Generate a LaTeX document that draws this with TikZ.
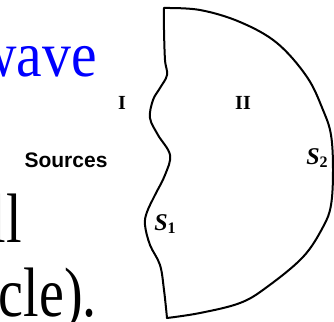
\documentclass[tikz,border=0pt]{standalone}
\usepackage{graphicx}
\usepackage{fontspec}
\setmainfont{Liberation Serif}
\newfontfamily\srcfont{Liberation Sans}
\newcommand{\narrowtext}[2][0.8]{\scalebox{#1}[1]{#2}}
\begin{document}
\begin{tikzpicture}[x=1pt,y=-1pt,
    slidetext/.style={font=\fontsize{70}{70}\selectfont, inner sep=0pt, anchor=base east},
    regionlabel/.style={font=\fontsize{20}{20}\selectfont\bfseries, inner sep=0pt},
    surflabel/.style={font=\fontsize{24}{24}\selectfont\bfseries, inner sep=0pt},
    boundary/.style={line width=2pt, line join=round, line cap=round}]
    \useasboundingbox (0,0) rectangle (334,321);
    \clip (0,0) rectangle (334,321);
    % slide text behind the figure
    \node [slidetext, font=\fontsize{64}{64}\selectfont, text=blue] (wave) at (97,76) {\narrowtext[0.9]{wave}};
    \node [slidetext] (linel) at (22,242) {\narrowtext{ll}};
    \node [slidetext] (cle) at (97,316) {\narrowtext{cle).}};
    % surface S1 (wavy) and S2 (arc)
    \draw [boundary] plot [smooth, tension=0.6] coordinates {(164,8) (164,30) (165,60) (167,75) (160,88) (153,100) (150,118) (158,135) (170,155) (165,175) (155,195) (147,212) (145,225) (150,245) (160,265) (164,290) (167,318)};
    \draw [boundary] plot [smooth, tension=0.6] coordinates {(164,8) (200,10) (240,22) (277,43) (307,77) (323,110) (331,135) (333,170) (331,205) (323,227) (303,257) (267,287) (240,303) (200,313) (167,318)};
    % labels
    \node [regionlabel] (one) at (122,103) {I};
    \node [regionlabel] (two) at (243,103) {II};
    \node [font=\srcfont\bfseries\fontsize{21}{21}\selectfont, inner sep=0pt] (src) at (66,160) {Sources};
    \node [surflabel] (sone) at (165,224) {\textit{S}\raisebox{-0.35ex}{\fontsize{16}{16}\selectfont 1}};
    \node [surflabel] (stwo) at (317,158) {\textit{S}\raisebox{-0.35ex}{\fontsize{16}{16}\selectfont 2}};
\end{tikzpicture}
\end{document}
